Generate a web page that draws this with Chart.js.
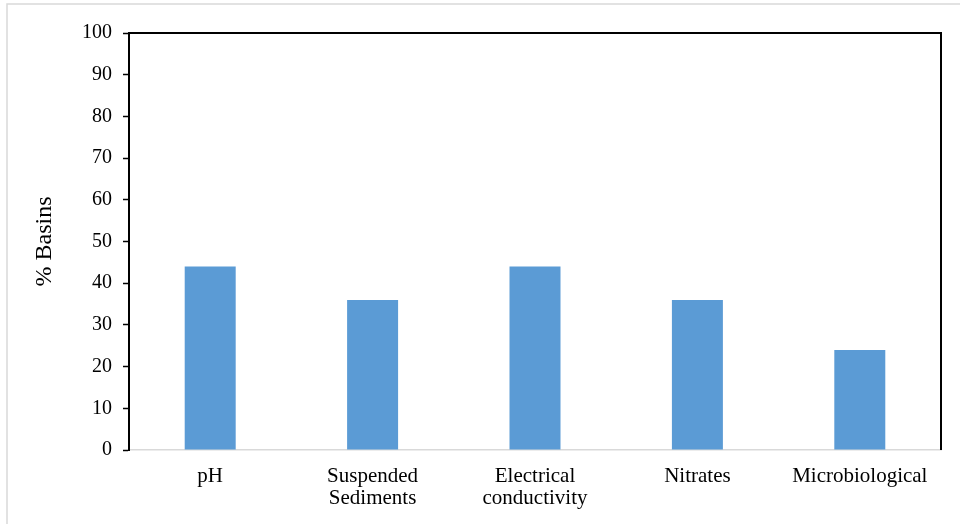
<!DOCTYPE html>
<html>
<head>
<meta charset="utf-8">
<script src="https://cdn.jsdelivr.net/npm/chart.js@4/dist/chart.umd.min.js"></script>
<style>
  html, body { margin: 0; padding: 0; background: #fff; }
  #wrap { width: 960px; height: 524px; }
</style>
</head>
<body>
<div id="wrap"><canvas id="basins" width="960" height="524"></canvas></div>
<script>
const categories = [
  'pH',
  ['Suspended', 'Sediments'],
  ['Electrical', 'conductivity'],
  'Nitrates',
  'Microbiological'
];
const basinShare = [44, 36, 44, 36, 24];
const yTicks = [0, 10, 20, 30, 40, 50, 60, 70, 80, 90, 100];

const serif = '"Liberation Serif", "Times New Roman", serif';

// black box round the plot area plus the faint outer frame
const frame = {
  id: 'frame',
  beforeDraw(chart) {
    const ctx = chart.ctx;
    ctx.save();
    ctx.strokeStyle = '#D9D9D9';
    ctx.lineWidth = 1.5;
    ctx.beginPath();
    ctx.moveTo(7, chart.height);
    ctx.lineTo(7, 4);
    ctx.lineTo(chart.width, 4);
    ctx.stroke();
    ctx.restore();
  },
  afterDraw(chart) {
    const { left, right, top, bottom } = chart.chartArea;
    const ctx = chart.ctx;
    ctx.save();
    ctx.strokeStyle = '#000';
    ctx.lineWidth = 2;
    ctx.beginPath();
    ctx.moveTo(left, top);
    ctx.lineTo(right, top);
    ctx.lineTo(right, bottom);
    ctx.stroke();
    ctx.restore();
  }
};

new Chart(document.getElementById('basins'), {
  type: 'bar',
  data: {
    labels: categories,
    datasets: [{
      data: basinShare,
      backgroundColor: '#5B9BD5',
      borderWidth: 0,
      categoryPercentage: 1,
      barPercentage: 0.314
    }]
  },
  options: {
    responsive: false,
    animation: false,
    layout: { padding: { top: 33, right: 19, left: 0, bottom: 0 } },
    plugins: {
      legend: { display: false },
      tooltip: { enabled: false }
    },
    scales: {
      x: {
        grid: { display: false, drawTicks: false },
        border: { color: '#D9D9D9', width: 1.5 },
        ticks: {
          color: '#000',
          font: { family: serif, size: 21, lineHeight: 1.05 },
          padding: 15,
          maxRotation: 0,
          autoSkip: false
        },
        afterFit(s) { s.height = 74; }
      },
      y: {
        min: 0,
        max: 100,
        afterBuildTicks(s) { s.ticks = yTicks.map(v => ({ value: v })); },
        grid: { drawOnChartArea: false, tickLength: 6, tickColor: '#000', tickWidth: 1.5 },
        border: { color: '#000', width: 2 },
        ticks: {
          color: '#000',
          font: { family: serif, size: 20 },
          padding: 11
        },
        title: {
          display: true,
          text: '% Basins',
          color: '#000',
          font: { family: serif, size: 24 },
          padding: { top: 30, bottom: 0 }
        },
        afterFit(s) { s.width = 129; }
      }
    }
  },
  plugins: [frame]
});
</script>
</body>
</html>
